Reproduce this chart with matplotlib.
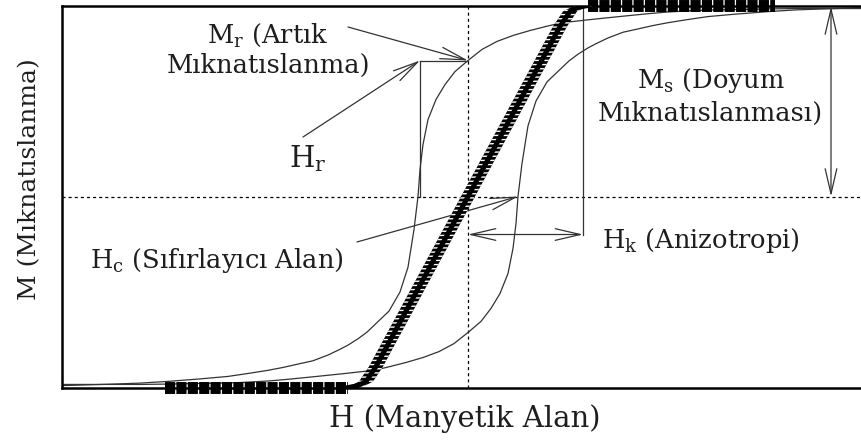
import numpy as np
import matplotlib
matplotlib.use("Agg")
import matplotlib.pyplot as plt

# ---------------- values ----------------
# thick (anhysteretic) curve: H, M
H_anh = [-3.03, -1.20, -1.10, -1.02, -0.92, 0.92, 1.02, 1.10, 1.20, 3.07]
M_anh = [-1.0, -1.0, -0.99, -0.969, -0.89, 0.89, 0.969, 0.99, 1.0, 1.0]

# descending branch of the hysteresis loop
H_desc = [4.06, 3.60, 3.28, 3.00, 2.72, 2.40, 2.28, 2.00, 1.82, 1.55, 1.42, 1.20,
          1.10, 1.01, 0.95, 0.80, 0.62, 0.45, 0.29, 0.14, 0.00, -0.13,
          -0.23, -0.32, -0.40, -0.45, -0.48, -0.50, -0.54, -0.60, -0.68, -0.79,
          -0.92, -1.01, -1.10, -1.20, -1.28, -1.40, -1.55, -1.68, -1.85, -2.00,
          -2.18, -2.40, -2.68, -3.00, -3.28, -3.60, -4.06]
M_desc = [0.984, 0.984, 0.984, 0.982, 0.979, 0.976, 0.974, 0.966, 0.958, 0.944,
          0.937, 0.925, 0.919, 0.914, 0.911, 0.893, 0.869, 0.843, 0.812, 0.770,
          0.712, 0.654, 0.586, 0.508, 0.403, 0.272, 0.141, 0.0, -0.173, -0.370,
          -0.500, -0.600, -0.665, -0.710, -0.745, -0.778, -0.800, -0.830, -0.860,
          -0.875, -0.895, -0.910, -0.925, -0.942, -0.955, -0.968, -0.977, -0.983, -0.990]

# ascending branch of the hysteresis loop
H_asc = [-4.06, -3.60, -3.28, -3.00, -2.72, -2.40, -2.28, -2.00, -1.82, -1.55, -1.42,
         -1.20, -1.10, -1.01, -0.95, -0.80, -0.62, -0.45, -0.29, -0.14, 0.00,
         0.13, 0.23, 0.32, 0.40, 0.45, 0.48, 0.50, 0.54, 0.60, 0.68, 0.79, 0.92,
         1.01, 1.10, 1.20, 1.28, 1.40, 1.55, 1.68, 1.85, 2.00, 2.18, 2.40, 2.68,
         3.00, 3.28, 3.60, 4.06]
M_asc = [-0.984, -0.984, -0.984, -0.982, -0.979, -0.976, -0.974, -0.966, -0.958,
         -0.944, -0.937, -0.925, -0.919, -0.914, -0.911, -0.893, -0.869, -0.843,
         -0.812, -0.770, -0.712, -0.654, -0.586, -0.508, -0.403, -0.272, -0.141,
         0.0, 0.173, 0.370, 0.500, 0.600, 0.665, 0.710, 0.745, 0.778, 0.800, 0.830,
         0.860, 0.875, 0.895, 0.910, 0.925, 0.942, 0.955, 0.968, 0.977, 0.983, 0.990]

# characteristic points
Mr_val = 0.712     # remanence
Hr_val = -0.48     # H_r marker line
Hc_val = 0.50      # coercive field
Hk_val = 1.15      # anisotropy field
Hk_arrow_M = -0.199
Ms_arrow_H = 3.63
Ms_top = 0.995

# texts
label_Mr = [r"M$_{\mathrm{r}}$ (Artık", "Mıknatıslanma)"]
label_Ms = [r"M$_{\mathrm{s}}$ (Doyum", "Mıknatıslanması)"]
label_Hk = r"H$_{\mathrm{k}}$ (Anizotropi)"
label_Hc = r"H$_{\mathrm{c}}$ (Sıfırlayıcı Alan)"
label_Hr = r"H$_{\mathrm{r}}$"
x_label = "H (Manyetik Alan)"
y_label = "M (Mıknatıslanma)"

# ---------------- drawing ----------------
W, HH = 862, 446
plt.rcParams['font.family'] = ['DejaVu Serif']
plt.rcParams['mathtext.fontset'] = 'dejavuserif'
plt.rcParams['lines.scale_dashes'] = False

fig = plt.figure(figsize=(W / 100, HH / 100), dpi=100)
ax = fig.add_axes([62 / W, 1 - 387.5 / HH, 800 / W, 382 / HH])
ax.set_xlim(-4.06, 3.94)
ax.set_ylim(-1.0, 1.0)
ax.set_xticks([])
ax.set_yticks([])
for s in ['left', 'top', 'bottom']:
    ax.spines[s].set_linewidth(1.8)
ax.spines['right'].set_visible(False)


def fpos(x, y):
    return (x / W, 1 - y / HH)


line_col = '#333333'
thin = dict(color=line_col, lw=0.9)
dotted = dict(color='k', lw=0.9, ls=(0, (2.2, 2.2)), zorder=1)
ax.axhline(0, **dotted)
ax.axvline(0, **dotted)

ax.plot(H_desc, M_desc, zorder=2, **thin)
ax.plot(H_asc, M_asc, zorder=2, **thin)

# thick curve
Ha = np.array(H_anh)
Ma = np.array(M_anh)
for sl in (slice(0, 2), slice(8, 10)):
    ax.plot(Ha[sl], Ma[sl], color='k', lw=8.6, ls=(0, (7.3, 0.9)),
            dash_capstyle='butt', solid_capstyle='butt', clip_on=False, zorder=4)
sl = slice(1, 9)
ax.fill_betweenx(Ma[sl], Ha[sl] - 0.07, Ha[sl] + 0.07, facecolor='k',
                 edgecolor='white', hatch='----', linewidth=0, zorder=4)
ax.plot(Ha[sl], Ma[sl], color='k', lw=3.5, zorder=5)

# construction lines
ax.plot([Hr_val, 0], [Mr_val, Mr_val], zorder=3, **thin)
ax.plot([Hr_val, Hr_val], [Mr_val, 0], zorder=3, **thin)
ax.plot([Hk_val, Hk_val], [0.99, Hk_arrow_M], zorder=3, **thin)

aprops = dict(mutation_scale=10, lw=0.9, color=line_col, shrinkA=0, shrinkB=0)
head = ',head_length=1.8,head_width=0.42'


def arrow(xy, xytext, style='->', tc='figure fraction'):
    ax.annotate('', xy=xy, xycoords='data', xytext=xytext, textcoords=tc,
                arrowprops=dict(arrowstyle=style + head, **aprops),
                annotation_clip=False)


arrow((0, Mr_val), fpos(348, 27))
arrow((Hr_val, Mr_val), fpos(303, 137))
arrow((Hc_val, 0), fpos(357, 242))
arrow((0, Hk_arrow_M), (Hk_val, Hk_arrow_M), style='<->', tc='data')
arrow((Ms_arrow_H, Ms_top), (Ms_arrow_H, 0), style='<->', tc='data')

fs = 18.5
tc = '#1e1e1e'
fig.text(*fpos(268, 43), label_Mr[0], ha='center', va='baseline', fontsize=fs, color=tc)
fig.text(*fpos(268, 73), label_Mr[1], ha='center', va='baseline', fontsize=fs, color=tc)
fig.text(*fpos(711, 88), label_Ms[0], ha='center', va='baseline', fontsize=fs, color=tc)
fig.text(*fpos(710, 121), label_Ms[1], ha='center', va='baseline', fontsize=fs, color=tc)
fig.text(*fpos(602, 248), label_Hk, ha='left', va='baseline', fontsize=fs, color=tc)
fig.text(*fpos(90, 268), label_Hc, ha='left', va='baseline', fontsize=fs, color=tc)
fig.text(*fpos(289, 167), label_Hr, ha='left', va='baseline', fontsize=21, color=tc)

ax.set_xlabel(x_label, fontsize=21, va='baseline', color=tc)
ax.xaxis.set_label_coords((465 - 62) / 800, (387.5 - 427) / 382)
ax.set_ylabel(y_label, fontsize=18, va='center', ha='center', color=tc)
ax.yaxis.set_label_coords((30 - 62) / 800, (387.5 - 179) / 382)

fig.savefig('out.png', dpi=100)
